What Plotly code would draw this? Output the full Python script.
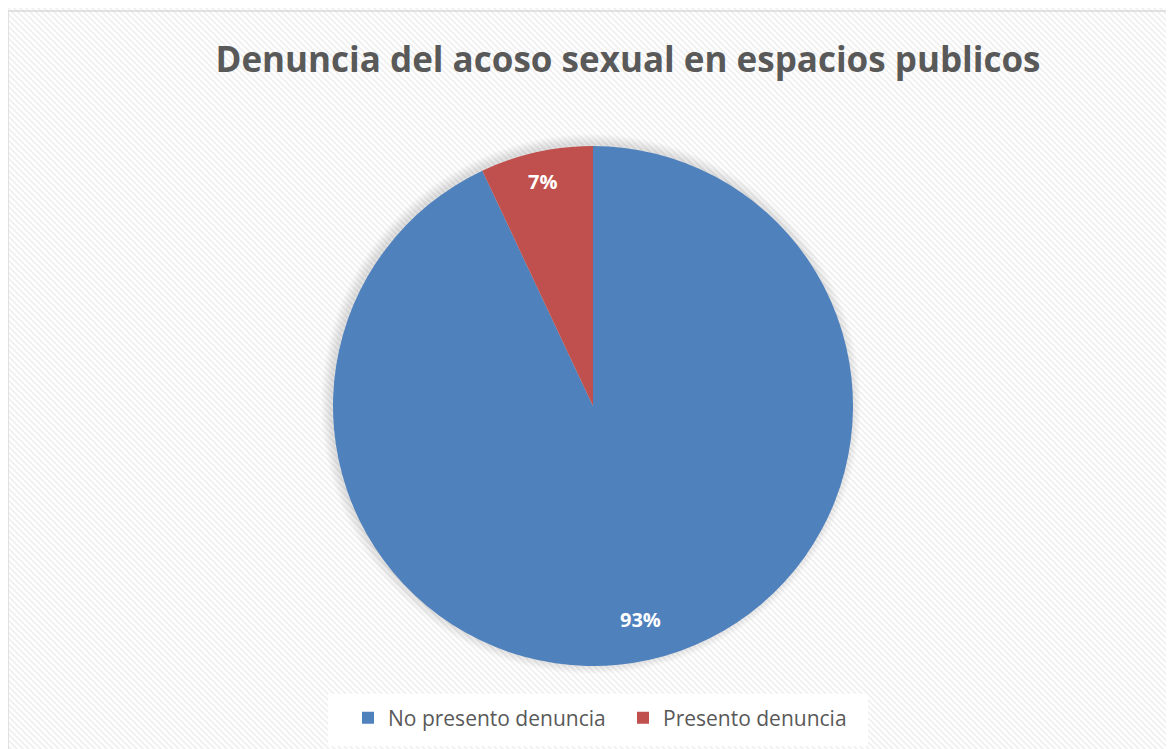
import plotly.graph_objects as go
import base64
import math

categories = ["No presento denuncia", "Presento denuncia"]
values = [93, 7]
colors = ["#4f81bd", "#c0504d"]

W, H = 1174, 749
OFF = 8  # page offset of the figure inside the browser window

# pie geometry in figure pixels
CX, CY, R = 593 - OFF, 406 - OFF, 260

def px(x):
    return x / W

def py(y):
    return 1 - y / H

svg = (
    '<svg xmlns="http://www.w3.org/2000/svg" width="%d" height="%d">'
    '<defs><pattern id="p" width="6" height="6" patternUnits="userSpaceOnUse">'
    '<rect width="6" height="6" fill="#ffffff"/>'
    '<path d="M0,0 L6,6 M-3,3 L3,9 M3,-3 L9,3" stroke="#f0f0f0" stroke-width="1.8"/>'
    '</pattern></defs>'
    '<rect width="100%%" height="100%%" fill="url(#p)"/>'
    '</svg>' % (W, H)
)
tile = "data:image/svg+xml;base64," + base64.b64encode(svg.encode()).decode()

fig = go.Figure()
fig.add_trace(go.Pie(
    labels=categories,
    values=values,
    marker=dict(colors=colors, line=dict(color="rgba(0,0,0,0)", width=0)),
    sort=False,
    direction="clockwise",
    rotation=0,
    textinfo="none",
    domain=dict(x=[px(CX - R), px(CX + R)], y=[py(CY + R), py(CY - R)]),
    hoverinfo="label+percent",
))

# percentage labels placed radially from the data (clockwise from 12 o'clock)
total = sum(values)
radial = [0.84, 0.885]
annotations = []
cum = 0
for v, rf in zip(values, radial):
    mid = (cum + v / 2) / total * 2 * math.pi
    cum += v
    lx = CX + math.sin(mid) * R * rf
    ly = CY - math.cos(mid) * R * rf
    annotations.append(dict(
        x=px(lx), y=py(ly), xref="paper", yref="paper",
        text="<b>%d%%</b>" % round(v / total * 100), showarrow=False,
        font=dict(family="Open Sans", size=20, color="white"),
        xanchor="center", yanchor="middle",
    ))

shapes = [
    dict(
        type="rect", xref="paper", yref="paper",
        x0=px(0), x1=1.01, y0=-0.01, y1=py(11 - OFF),
        line=dict(color="#d9d9d9", width=1.5), fillcolor="rgba(0,0,0,0)", layer="below",
    ),
    # white backdrop behind the legend
    dict(
        type="rect", xref="paper", yref="paper",
        x0=px(328 - OFF), x1=px(868 - OFF), y0=py(746 - OFF), y1=py(694 - OFF),
        line=dict(width=0), fillcolor="#ffffff", layer="below",
    ),
]
# soft shadow around the pie (up-left)
for i in range(10, 0, -1):
    rr = R + i
    sx, sy = CX - 2, CY - 2
    shapes.append(dict(
        type="circle", xref="paper", yref="paper",
        x0=px(sx - rr), x1=px(sx + rr), y0=py(sy + rr), y1=py(sy - rr),
        line=dict(width=0), fillcolor="rgba(0,0,0,0.012)", layer="below",
    ))

fig.update_layout(
    width=W, height=H,
    margin=dict(l=0, r=0, t=0, b=0),
    paper_bgcolor="#ffffff",
    plot_bgcolor="#ffffff",
    title=dict(
        text="<b>Denuncia del acoso sexual en espacios publicos</b>",
        x=px(628 - OFF), xanchor="center",
        y=py(60 - OFF), yanchor="middle",
        font=dict(family="Open Sans", size=35, color="#595959"),
    ),
    legend=dict(
        orientation="h",
        x=px(348 - OFF), xanchor="left",
        y=py(718 - OFF), yanchor="middle",
        font=dict(family="Open Sans", size=21, color="#595959"),
        bgcolor="rgba(0,0,0,0)",
        itemwidth=30,
        entrywidth=230,
        entrywidthmode="pixels",
        traceorder="normal",
    ),
    images=[dict(
        source=tile, xref="paper", yref="paper",
        x=0, y=1, sizex=1, sizey=1,
        xanchor="left", yanchor="top", sizing="stretch", layer="below", opacity=1,
    )],
    shapes=shapes,
    annotations=annotations,
)

fig.write_html("out.html")
